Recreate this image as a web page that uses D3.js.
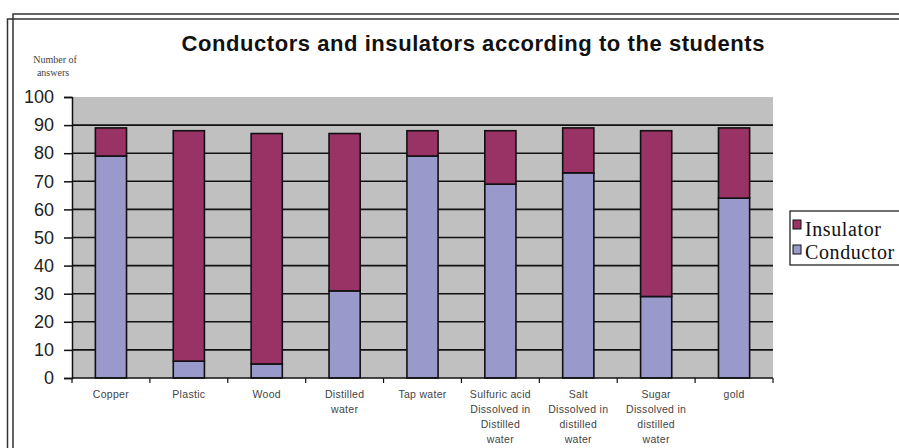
<!DOCTYPE html>
<html>
<head>
<meta charset="utf-8">
<script src="https://cdn.jsdelivr.net/npm/d3@7/dist/d3.min.js"></script>
<style>
  html, body { margin: 0; padding: 0; background: #fff; }
  svg { display: block; }
</style>
</head>
<body>
<div id="chart"></div>
<script>
const categories = ['Copper', 'Plastic', 'Wood', 'Distilled water', 'Tap water',
  'Sulfuric acid Dissolved in Distilled water', 'Salt Dissolved in distilled water',
  'Sugar Dissolved in distilled water', 'gold'];
const categoryLines = [
  ['Copper'], ['Plastic'], ['Wood'], ['Distilled', 'water'], ['Tap  water'],
  ['Sulfuric acid', 'Dissolved in', 'Distilled', 'water'],
  ['Salt', 'Dissolved in', 'distilled', 'water'],
  ['Sugar', 'Dissolved in', 'distilled', 'water'],
  ['gold'],
];
const conductor = [79, 6, 5, 31, 79, 69, 73, 29, 64];
const insulator = [10, 82, 82, 56, 9, 19, 16, 59, 25];
const seriesNames = ['Conductor', 'Insulator'];
const yTicks = [0, 10, 20, 30, 40, 50, 60, 70, 80, 90, 100];

const width = 899, height = 448;
const colors = { Conductor: '#9999cc', Insulator: '#993366' };

const svg = d3.select('#chart').append('svg').attr('width', width).attr('height', height);

// double frame
svg.append('rect').attr('x', 13).attr('y', 14).attr('width', 900).attr('height', 450)
  .attr('fill', 'none').attr('stroke', '#333').attr('stroke-width', 1.5);
svg.append('rect').attr('x', 7.5).attr('y', 19).attr('width', 900).attr('height', 450)
  .attr('fill', 'none').attr('stroke', '#333').attr('stroke-width', 1.5);

const x = d3.scaleBand(categories, [72, 773]).paddingInner(0.6).paddingOuter(0.3);
const y = d3.scaleLinear([0, 100], [378, 97]);

// plot area
svg.append('rect').attr('x', 72).attr('y', y(100)).attr('width', 701).attr('height', y(0) - y(100))
  .attr('fill', '#c0c0c0');

svg.append('g').selectAll('line').data(yTicks.filter((d) => d > 0 && d < 100)).join('line')
  .attr('x1', 72).attr('x2', 773).attr('y1', (d) => y(d)).attr('y2', (d) => y(d))
  .attr('stroke', '#111').attr('stroke-width', 1.6);

// stacked bars
const rows = categories.map((c, i) => ({ cat: c, Conductor: conductor[i], Insulator: insulator[i] }));
const stacked = d3.stack().keys(seriesNames)(rows);
svg.append('g').selectAll('g').data(stacked).join('g')
  .attr('fill', (s) => colors[s.key])
  .selectAll('rect').data((s) => s).join('rect')
  .attr('x', (d) => x(d.data.cat)).attr('width', x.bandwidth())
  .attr('y', (d) => y(d[1])).attr('height', (d) => y(d[0]) - y(d[1]))
  .attr('stroke', '#111').attr('stroke-width', 1.6);

// y axis
const yAxis = svg.append('g').attr('transform', 'translate(72,0)')
  .call(d3.axisLeft(y).tickValues(yTicks).tickSize(8).tickPadding(10));
yAxis.select('.domain').attr('stroke', '#111').attr('stroke-width', 1.5);
yAxis.selectAll('.tick line').attr('stroke', '#111').attr('stroke-width', 1.5);
yAxis.selectAll('.tick text').attr('font-family', 'Liberation Sans, Arial, sans-serif')
  .attr('font-size', 18).attr('fill', '#222');

// x axis
svg.append('line').attr('x1', 72).attr('x2', 773).attr('y1', y(0)).attr('y2', y(0))
  .attr('stroke', '#111').attr('stroke-width', 1.5);
const bounds = d3.range(categories.length + 1).map((i) => x.range()[0] + i * x.step());
svg.append('g').selectAll('line').data(bounds).join('line')
  .attr('x1', (d) => d).attr('x2', (d) => d).attr('y1', y(0)).attr('y2', y(0) + 5)
  .attr('stroke', '#111').attr('stroke-width', 1.2);

const xl = svg.append('g').attr('font-family', 'Liberation Sans, Arial, sans-serif')
  .attr('font-size', 10.5).attr('fill', '#444').attr('text-anchor', 'middle')
  .attr('letter-spacing', 0.3);
xl.selectAll('text').data(categories).join('text')
  .attr('x', (d) => x(d) + x.bandwidth() / 2).attr('y', 398)
  .each(function (d, i) {
    d3.select(this).selectAll('tspan').data(categoryLines[i]).join('tspan')
      .attr('x', x(d) + x.bandwidth() / 2).attr('dy', (t, j) => (j === 0 ? 0 : 15))
      .text((t) => t);
  });

// title
svg.append('text').attr('x', 473).attr('y', 51).attr('text-anchor', 'middle')
  .attr('font-family', 'Liberation Sans, Arial, sans-serif').attr('font-weight', 'bold')
  .attr('font-size', 22).attr('fill', '#111')
  .attr('textLength', 583).attr('lengthAdjust', 'spacing')
  .text('Conductors and insulators according to the students');

// y axis title
const yt = svg.append('g').attr('font-family', 'Liberation Serif, Times New Roman, serif')
  .attr('font-size', 10).attr('fill', '#444').attr('text-anchor', 'middle');
yt.append('text').attr('x', 55).attr('y', 63).text('Number of');
yt.append('text').attr('x', 53).attr('y', 76).text('answers');

// legend
const lg = svg.append('g');
lg.append('rect').attr('x', 790).attr('y', 211).attr('width', 130).attr('height', 54)
  .attr('fill', '#fff').attr('stroke', '#111').attr('stroke-width', 1.2);
const legendItems = ['Insulator', 'Conductor'];
lg.selectAll('rect.sw').data(legendItems).join('rect').attr('class', 'sw')
  .attr('x', 793).attr('y', (d, i) => 220 + i * 25).attr('width', 8).attr('height', 9)
  .attr('fill', (d) => colors[d]).attr('stroke', '#111').attr('stroke-width', 1);
lg.selectAll('text').data(legendItems).join('text')
  .attr('x', 805).attr('y', (d, i) => 236 + i * 23)
  .attr('font-family', 'Liberation Serif, Times New Roman, serif').attr('font-size', 20)
  .attr('letter-spacing', 0.6).attr('fill', '#111').text((d) => d);
</script>
</body>
</html>
